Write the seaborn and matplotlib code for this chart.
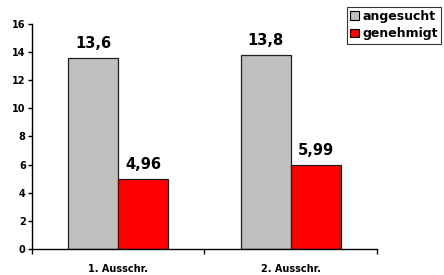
import pandas as pd
import seaborn as sns
import matplotlib.pyplot as plt
from matplotlib.patches import Patch

sns.set_style('white')
plt.rcParams['font.family'] = ['DejaVu Sans']
plt.rcParams['text.color'] = 'black'
plt.rcParams['xtick.color'] = 'black'
plt.rcParams['ytick.color'] = 'black'

# DATA
categories = ['1. Ausschr.', '2. Ausschr.']
angesucht = [13.6, 13.8]
genehmigt = [4.96, 5.99]
labels_angesucht = ['13,6', '13,8']
labels_genehmigt = ['4,96', '5,99']
series = ['angesucht', 'genehmigt']
colors = {'angesucht': '#c0c0c0', 'genehmigt': '#ff0000'}

df = pd.DataFrame({
    'kat': categories * 2,
    'serie': ['angesucht'] * 2 + ['genehmigt'] * 2,
    'wert': angesucht + genehmigt,
})

fig = plt.figure(figsize=(4.44, 2.75), dpi=100)
ax = fig.add_axes([0.072, 0.095, 0.777, 0.818])

sns.barplot(data=df, x='kat', y='wert', hue='serie', hue_order=series,
            palette=colors, width=0.58, gap=0, edgecolor='#202020',
            linewidth=0.9, saturation=1, ax=ax, legend=False)

# value labels
for cont, labs in zip(ax.containers, [labels_angesucht, labels_genehmigt]):
    ax.bar_label(cont, labels=labs, padding=5, fontsize=10.5, fontweight='bold',
                 color='black')

ax.set_ylim(0, 16)
ax.set_yticks(range(0, 17, 2))
ax.set_xlim(-0.5, 1.5)
ax.set_xticks([-0.5, 0.5, 1.5])
ax.set_xticklabels([])
ax.set_xticks([0, 1], minor=True)
ax.set_xticklabels(categories, minor=True)
ax.tick_params(axis='x', which='major', length=3.5, width=1, direction='out', bottom=True)
ax.tick_params(axis='x', which='minor', length=0, pad=11, labelsize=7)
ax.tick_params(axis='y', length=3, width=1, direction='out', left=True, labelsize=7, pad=1.5)
for t in ax.get_xticklabels(minor=True) + ax.get_yticklabels():
    t.set_fontweight('bold')

ax.set_xlabel('')
ax.set_ylabel('')
sns.despine(ax=ax, top=True, right=True)
for s in ['left', 'bottom']:
    ax.spines[s].set_color('black')
    ax.spines[s].set_linewidth(1)

handles = [Patch(facecolor=colors[s], edgecolor='black', linewidth=0.8) for s in series]
leg = fig.legend(handles, series, loc='upper right', bbox_to_anchor=(0.993, 0.975),
                 frameon=True, fancybox=False, edgecolor='black', fontsize=9,
                 handlelength=0.7, handleheight=0.7, handletextpad=0.3,
                 borderpad=0.25, labelspacing=0.35, borderaxespad=0)
leg.get_frame().set_linewidth(0.8)
for t in leg.get_texts():
    t.set_fontweight('bold')

fig.savefig('out.png', dpi=100)
